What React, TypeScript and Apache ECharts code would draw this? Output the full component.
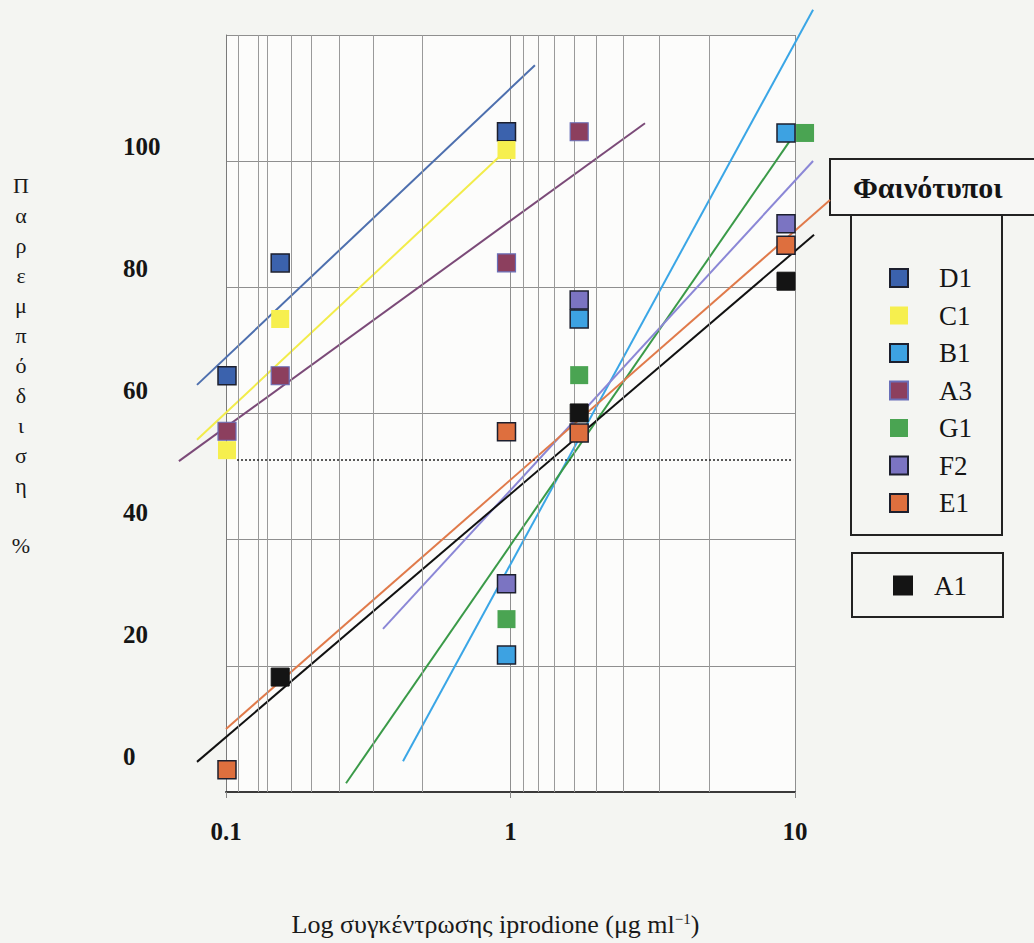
import { useEffect, useRef } from "react";
import * as echarts from "echarts";

// ---- data (x: μg/ml on log scale, y: % inhibition) ----
const yTickValues = [0, 20, 40, 60, 80, 100];
const xTickValues = [0.1, 1, 10];
const yTitleLetters = ["Π", "α", "ρ", "ε", "μ", "π", "ό", "δ", "ι", "σ", "η", "", "%"];
const legendMain = ["D1", "C1", "B1", "A3", "G1", "F2", "E1"];
const legendRef = ["A1"];

const d1Pts = [[0.1, 62.5], [0.155, 81.0], [1, 102.5]];
const c1Pts = [[0.1, 50.3], [0.155, 71.8], [1, 99.5]];
const b1Pts = [[1, 16.7], [1.82, 71.8], [10, 102.3]];
const a3Pts = [[0.1, 53.4], [0.155, 62.5], [1, 81.0], [1.82, 102.5]];
const g1Pts = [[1, 22.6], [1.82, 62.6], [11.7, 102.3]];
const f2Pts = [[1, 28.4], [1.82, 74.9], [10, 87.4]];
const e1Pts = [[0.1, -2.1], [1, 53.3], [1.82, 53.1], [10, 83.9]];
const a1Pts = [[0.155, 13.1], [1.82, 56.4], [10, 78.0]];

// regression lines: [x0, y0] -> [x1, y1]
const d1Fit = [[0.0781, 61.0], [1.264, 113.4]];
const c1Fit = [[0.0781, 52.0], [1, 99.5]];
const b1Fit = [[0.4263, -0.7], [12.5, 122.5]];
const a3Fit = [[0.0673, 48.5], [3.13, 103.9]];
const g1Fit = [[0.2666, -4.3], [10.5, 101.5]];
const f2Fit = [[0.3615, 21.0], [12.5, 97.7]];
const e1Fit = [[0.0992, 4.6], [14.37, 91.3]];
const a1Fit = [[0.0781, -0.8], [12.6, 85.6]];

const ref50 = 48.7;
const ref50From = 0.1086;
const ref50To = 10.6;

const minorGridX = [0.111, 0.125, 0.143, 0.167, 0.2, 0.25, 0.333, 0.49, 1.11, 1.25, 1.43, 1.67, 2, 2.5, 3.33, 5];

const SERIF = "'Liberation Serif', 'DejaVu Serif', serif";

type Spec = { name: string; pts: number[][]; fit: number[][]; fill: string; border: string; bw: number; line: string };

const specs: Spec[] = [
  { name: "D1", pts: d1Pts, fit: d1Fit, fill: "#3b62ad", border: "#1c1f2e", bw: 1.5, line: "#4d6fae" },
  { name: "C1", pts: c1Pts, fit: c1Fit, fill: "#f6ef4e", border: "#f6ef4e", bw: 0, line: "#f2ec4a" },
  { name: "B1", pts: b1Pts, fit: b1Fit, fill: "#3da2e2", border: "#1c1f2e", bw: 1.5, line: "#3aa6e6" },
  { name: "A3", pts: a3Pts, fit: a3Fit, fill: "#8c3f5e", border: "#6a6fb8", bw: 1.2, line: "#7b4a78" },
  { name: "G1", pts: g1Pts, fit: g1Fit, fill: "#4aa452", border: "#4aa452", bw: 0, line: "#3a9a48" },
  { name: "F2", pts: f2Pts, fit: f2Fit, fill: "#7b74c2", border: "#1c1f2e", bw: 1.5, line: "#8b87d6" },
  { name: "E1", pts: e1Pts, fit: e1Fit, fill: "#de6f3e", border: "#1c1f2e", bw: 1.5, line: "#e07a4a" },
  { name: "A1", pts: a1Pts, fit: a1Fit, fill: "#141414", border: "#141414", bw: 1, line: "#111111" },
];

export default function App() {
  const ref = useRef<HTMLDivElement>(null);

  useEffect(() => {
    if (!ref.current) return;
    const chart = echarts.init(ref.current, null, { renderer: "svg" });

    const fitSeries = specs.map((s) => ({
      name: s.name + " fit",
      type: "custom",
      xAxisIndex: 1,
      yAxisIndex: 0,
      dimensions: ["x0", "y0", "x1", "y1"],
      encode: { x: [0, 2], y: [1, 3] },
      data: [[s.fit[0][0], s.fit[0][1], s.fit[1][0], s.fit[1][1]]],
      clip: false,
      silent: true,
      z: 3,
      renderItem: (_params: any, api: any) => {
        const p0 = api.coord([api.value(0), api.value(1)]);
        const p1 = api.coord([api.value(2), api.value(3)]);
        return {
          type: "line",
          shape: { x1: p0[0], y1: p0[1], x2: p1[0], y2: p1[1] },
          style: { stroke: s.line, lineWidth: 2, fill: "none" },
        };
      },
    }));

    const scatterSeries = specs.map((s) => ({
      name: s.name,
      type: "scatter",
      xAxisIndex: 1,
      yAxisIndex: 0,
      data: s.pts,
      symbol: "rect",
      symbolSize: 18,
      clip: false,
      z: 5,
      itemStyle: { color: s.fill, borderColor: s.border, borderWidth: s.bw, opacity: 1 },
    }));

    const option: any = {
      animation: false,
      backgroundColor: "#f4f5f2",
      grid: {
        left: 226,
        right: 239,
        top: 35,
        bottom: 151,
        show: true,
        backgroundColor: "#fcfcfb",
        borderWidth: 0,
        containLabel: false,
        outerBoundsMode: "none",
      },
      title: {
        text: "Φαινότυποι",
        left: 853,
        top: 171,
        padding: 0,
        textStyle: { fontFamily: SERIF, fontWeight: "bold", fontSize: 30, lineHeight: 32, color: "#151515" },
      },
      legend: [
        {
          data: legendMain,
          orient: "vertical",
          left: 851,
          top: 215,
          icon: "rect",
          itemWidth: 18,
          itemHeight: 18,
          itemGap: -0.5,
          padding: [44, 30, 13, 38],
          borderColor: "#222",
          borderWidth: 2,
          selectedMode: false,
          textStyle: { fontFamily: SERIF, fontSize: 27, color: "#151515", lineHeight: 18, padding: [0, 0, 20, 26] },
        },
        {
          data: legendRef,
          orient: "vertical",
          left: 852,
          top: 553,
          icon: "rect",
          itemWidth: 18,
          itemHeight: 18,
          padding: [19, 36, 18, 41],
          borderColor: "#222",
          borderWidth: 2,
          selectedMode: false,
          textStyle: { fontFamily: SERIF, fontSize: 27, color: "#151515", lineHeight: 18, padding: [0, 0, 4, 17] },
        },
      ],
      xAxis: [
        {
          type: "log",
          logBase: 10,
          min: 0.1,
          max: 10,
          position: "bottom",
          axisLine: { show: true, onZero: false, lineStyle: { color: "#3a3a3a", width: 2 } },
          axisTick: { show: true, length: 6, lineStyle: { color: "#888" } },
          splitLine: { show: true, lineStyle: { color: "#8f8f8f", width: 1 } },
          axisLabel: {
            margin: 27,
            fontFamily: SERIF,
            fontWeight: "bold",
            fontSize: 25,
            color: "#151515",
            formatter: (v: number) => {
              const r = xTickValues.find((t) => Math.abs(t - v) / t < 1e-6);
              return r !== undefined ? String(r) : "";
            },
          },
          name: "Log συγκέντρωσης iprodione (μg ml{sup|−1})",
          nameLocation: "middle",
          nameGap: 119,
          nameTextStyle: {
            fontFamily: SERIF,
            fontSize: 26,
            color: "#1a1a1a",
            padding: [0, 30, 0, 0],
            rich: { sup: { fontFamily: SERIF, fontSize: 15, color: "#1a1a1a", verticalAlign: "top", padding: [0, 0, 12, 0] } },
          },
        },
        {
          type: "log",
          logBase: 10,
          min: 0.09918,
          max: 10.77,
          show: false,
          position: "bottom",
          axisLine: { onZero: false },
        },
      ],
      yAxis: [
        {
          type: "value",
          min: -5.74,
          max: 118.36,
          position: "left",
          axisLine: { show: false, onZero: false },
          axisTick: { show: false },
          splitLine: { show: false },
          axisLabel: {
            customValues: yTickValues,
            align: "left",
            margin: 103,
            fontFamily: SERIF,
            fontWeight: "bold",
            fontSize: 25,
            color: "#151515",
          },
        },
        {
          type: "value",
          min: 0,
          max: 6,
          interval: 1,
          position: "left",
          axisLine: { show: true, onZero: false, lineStyle: { color: "#7a7a7a", width: 1 } },
          axisTick: { show: false },
          axisLabel: { show: false },
          splitLine: { show: true, lineStyle: { color: "#8f8f8f", width: 1 } },
        },
      ],
      graphic: [
        {
          type: "rect",
          silent: true,
          z: -1,
          shape: { x: 830, y: 159, width: 240, height: 56 },
          style: { fill: "#f7f7f5", stroke: "#222", lineWidth: 2 },
        },
        {
          type: "text",
          x: 21,
          y: 170,
          silent: true,
          style: {
            text: yTitleLetters.join("\n"),
            fontFamily: SERIF,
            fontSize: 22,
            lineHeight: 30,
            textAlign: "center",
            textVerticalAlign: "top",
            fill: "#1a1a1a",
          },
        },
      ],
      series: [
        {
          name: "minor grid",
          type: "line",
          xAxisIndex: 0,
          yAxisIndex: 1,
          data: [],
          silent: true,
          markLine: {
            silent: true,
            symbol: "none",
            animation: false,
            label: { show: false },
            lineStyle: { color: "#9a9a9a", width: 1, type: "solid" },
            data: minorGridX.map((v) => ({ xAxis: v })),
          },
        },
        {
          name: "50%",
          type: "line",
          xAxisIndex: 1,
          yAxisIndex: 0,
          data: [],
          silent: true,
          markLine: {
            silent: true,
            symbol: "none",
            animation: false,
            label: { show: false },
            lineStyle: { color: "#222", width: 1.5, type: [2, 2] },
            data: [[{ coord: [ref50From, ref50] }, { coord: [ref50To, ref50] }]],
          },
        },
        ...fitSeries,
        ...scatterSeries,
      ],
    };

    chart.setOption(option);
    return () => chart.dispose();
  }, []);

  return (
    <div
      ref={ref}
      style={{ position: "absolute", left: 0, top: 0, width: 1034, height: 943 }}
    />
  );
}
